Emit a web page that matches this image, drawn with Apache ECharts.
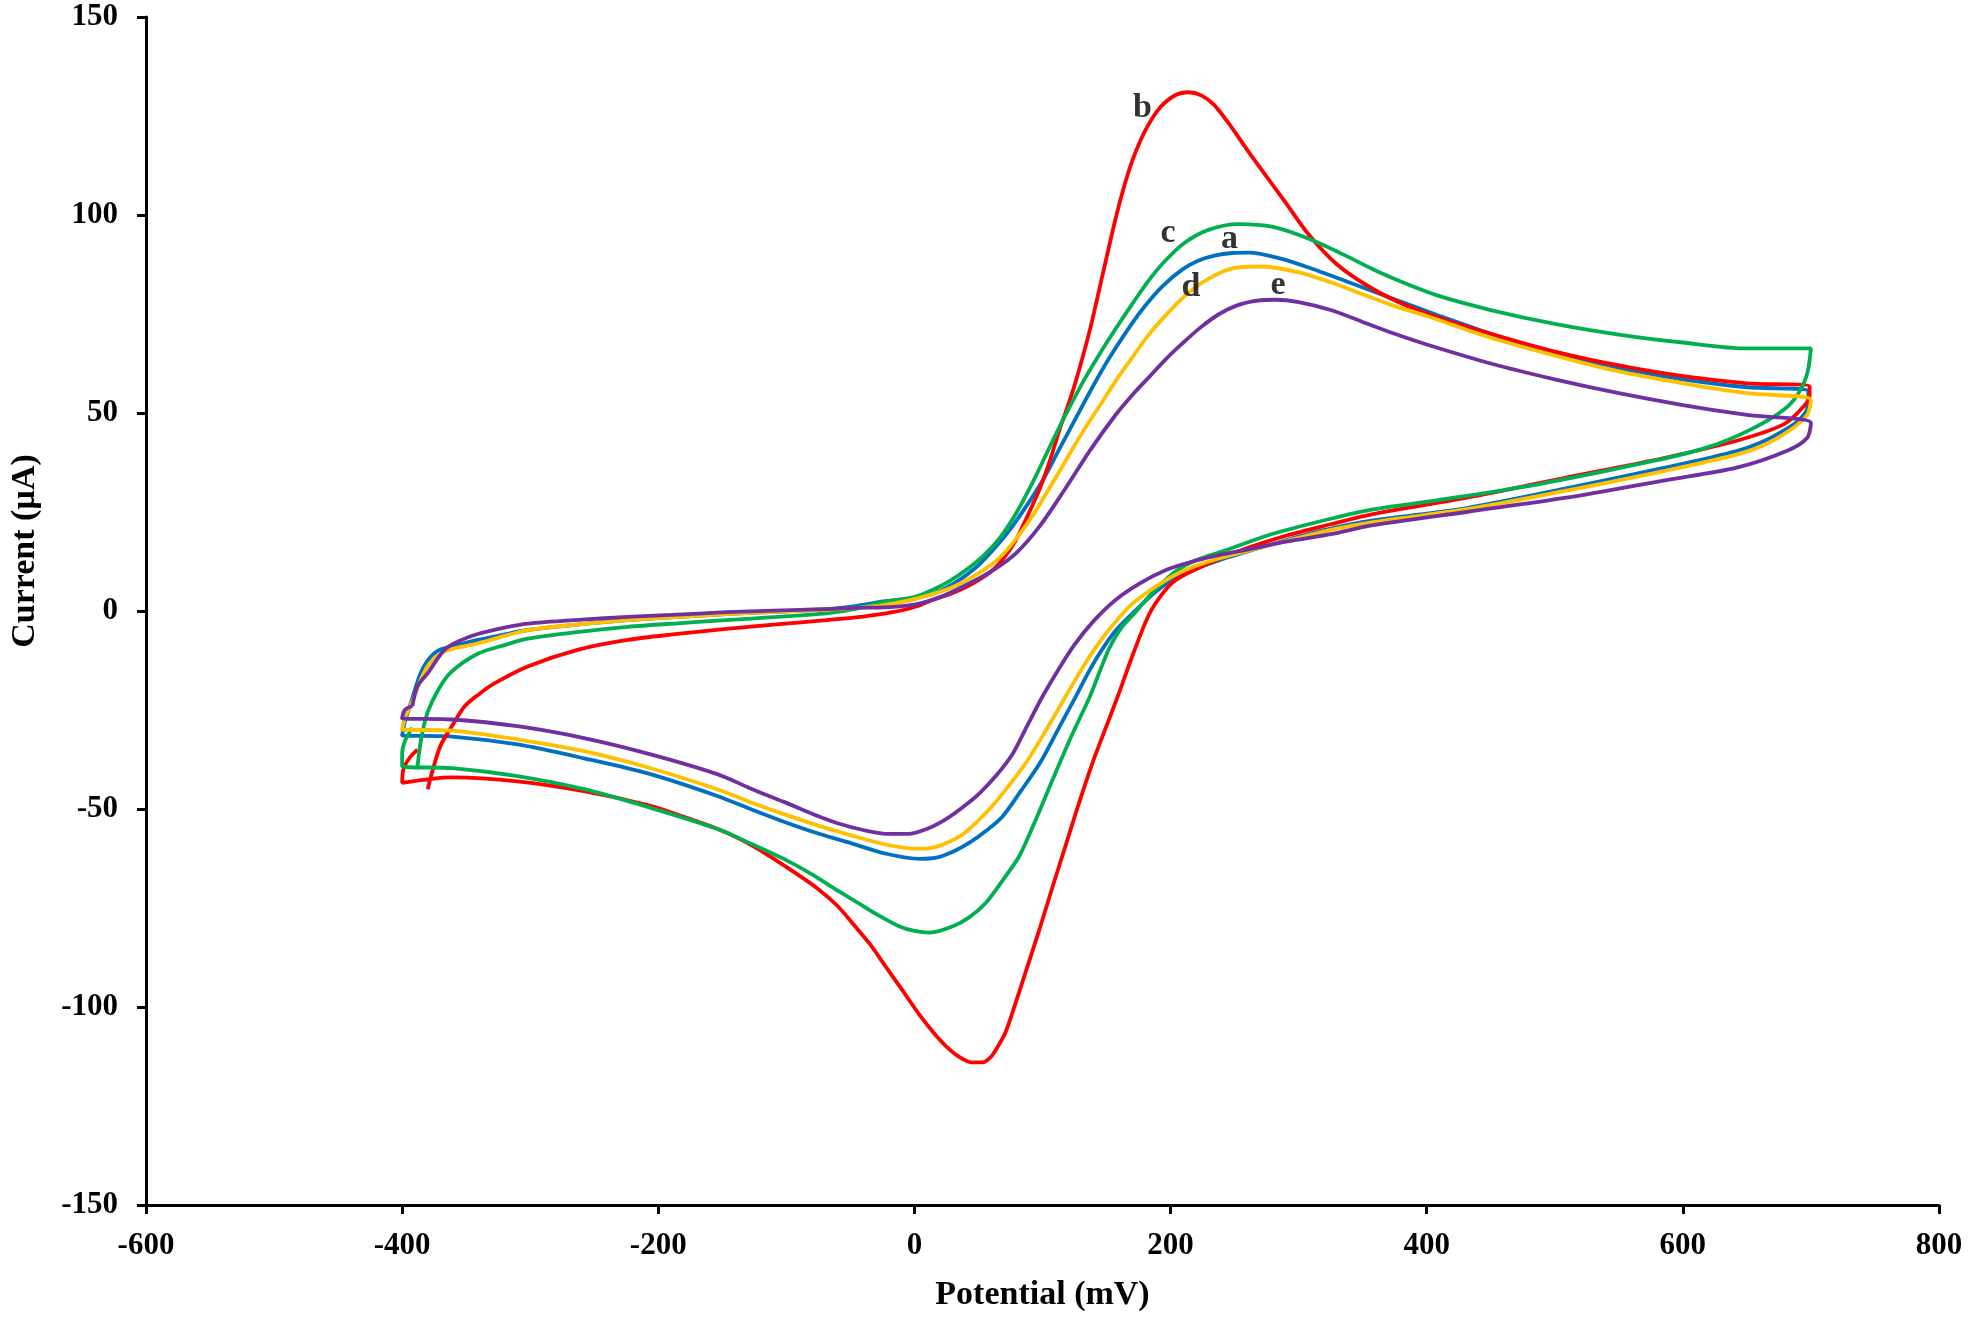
<!DOCTYPE html>
<html>

<head>
  <meta charset="utf-8">
  <title>Cyclic Voltammograms</title>
  <script src="https://cdn.jsdelivr.net/npm/echarts@6/dist/echarts.min.js"></script>
  <style>
    html, body { margin: 0; padding: 0; background: #fff; }
  </style>
</head>

<body>
  <div id="main" style="width: 1968px; height: 1317px;"></div>
  <script type="text/javascript">
    // axis ticks
    var xTicks = [-600, -400, -200, 0, 200, 400, 600, 800];
    var yTicks = [-150, -100, -50, 0, 50, 100, 150];

    // curve a (blue): forward scan then reverse scan, [potential mV, current uA]
    var curveA = [
      [-398, -28], [-392, -22], [-386, -16], [-380, -12.5], [-372, -10], [-357, -8.6], [-341, -7.3], [-320, -5.9],
      [-302, -4.8], [-260, -3.3], [-224, -2.3], [-185, -1.5], [-147, -0.8], [-108, -0.2], [-69, 0.4], [-45, 1.3],
      [-24, 2.4], [0, 3.3], [14, 4.3], [31, 7], [48, 11], [61, 15.3], [74, 20.3], [87, 26.3],
      [100, 32.9], [113, 40.8], [126, 48.7], [139, 56.5], [152, 63.8], [165, 70.3], [178, 76.2], [193, 81.8],
      [209, 86.2], [222, 88.5], [235, 89.8], [248, 90.4], [261, 90.5], [286, 89], [310, 86.5], [335, 83.5],
      [360, 80.5], [385, 77.5], [410, 74.5], [450, 70], [500, 65], [550, 61.3], [600, 58.5], [650, 56.5], [698, 55.5],
      [697, 51], [690, 48], [681, 46], [664, 43], [642, 40.4], [586, 36.2], [509, 31], [431, 26], [357, 22.8],
      [325, 20.8], [300, 18.8], [270, 16], [235, 12.5], [204, 8.3], [187, 4.5], [170, -0.7], [157, -5],
      [145, -10.5], [135, -16], [126, -21.6], [112, -30], [98, -38.4], [83, -45.5], [69, -51.8], [56, -55.5],
      [43, -58.5], [30, -60.8], [17, -62.3], [4, -62.6], [-22, -61.3], [-48, -58.8], [-75, -56.2], [-102, -53.2],
      [-128, -50], [-154, -46.7], [-206, -41.2], [-258, -37.2], [-310, -33.7], [-361, -31.7], [-400, -31.4], [-398, -28]
    ];

    // curve b (red)
    var curveB = [
      [-380, -45], [-376, -40], [-370, -34], [-361, -29], [-351, -24], [-340, -21], [-328, -18.3], [-302, -14],
      [-263, -9.8], [-224, -7.3], [-185, -5.8], [-147, -4.5], [-108, -3.4], [-69, -2.3], [-40, -1.4], [-17, -0.3],
      [0, 1], [14, 2.8], [27, 4.2], [40, 6], [51, 8], [61, 10.3], [70, 13.5], [79, 17.8],
      [88, 23.8], [98, 31], [106, 38.2], [113, 45.5], [120, 52], [126, 58], [137, 71], [147, 85],
      [157, 99], [164, 107.5], [171, 114.5], [181, 121.8], [192, 127.2], [204, 130.3], [214, 131], [224, 130.2],
      [234, 127.8], [245, 123.3], [263, 115], [289, 103.5], [308, 95], [330, 87.5], [357, 81.5], [385, 77],
      [410, 74], [450, 70], [500, 65.5], [550, 62], [600, 59.3], [650, 57.5], [699, 56.7],
      [699, 54.3], [691, 50.5], [678, 47], [642, 43], [586, 38.7], [509, 33.7], [431, 28.6], [357, 24.4],
      [325, 21.9], [290, 19], [261, 16], [228, 11.8], [204, 7.8], [194, 4.5], [183, -1], [170, -11.5],
      [160, -20.5], [150, -29], [139, -38.4], [128, -49], [118, -59.3], [108, -69.5], [98, -80], [87, -91],
      [77, -101], [71, -106.5], [66, -109.5], [60, -112.5], [53, -114], [45, -114], [35, -112.6], [25, -110],
      [15, -106.5], [4, -102], [-10, -95.5], [-22, -90], [-35, -84], [-48, -79], [-60, -74.5], [-76, -70],
      [-96, -65.5], [-115, -61.5], [-135, -57.8], [-154, -55], [-180, -52], [-206, -49.2], [-258, -45.5], [-310, -43],
      [-361, -42], [-400, -43.4], [-399, -40], [-394, -37], [-388, -35]
    ];

    // curve c (green)
    var curveC = [
      [-388, -39.2], [-385, -32], [-380, -25.5], [-372, -20], [-362, -15.5], [-341, -10.8], [-320, -8.6], [-302, -7],
      [-260, -5.2], [-224, -4], [-185, -3.1], [-147, -2.3], [-108, -1.5], [-69, -0.6], [-45, 0.6], [-24, 2.3],
      [0, 3.5], [14, 5.3], [27, 7.5], [40, 10.3], [54, 14], [67, 18.6], [80, 25], [93, 32.9],
      [105, 41], [118, 49.5], [131, 57.5], [144, 64.6], [157, 71.2], [170, 77.5], [183, 83.5], [196, 88.5],
      [211, 93], [230, 96.3], [253, 97.7], [280, 97], [308, 94], [335, 90], [360, 86], [385, 82.5],
      [410, 79.5], [450, 76], [500, 72.5], [550, 69.8], [600, 67.8], [650, 66.3], [700, 66.3],
      [696, 58.8], [683, 52], [654, 46], [616, 41], [564, 37], [487, 32], [409, 28], [357, 25.6],
      [325, 23.3], [280, 19.5], [240, 15], [220, 12.8], [204, 10], [187, 5], [172, -0.5], [161, -4.5],
      [152, -9.5], [145, -15], [137, -21.6], [122, -32], [108, -42.5], [95, -52.5], [82, -61.8], [70, -67.5],
      [56, -73.6], [43, -77.3], [30, -79.6], [12, -81.2], [0, -80.8], [-12, -79.6], [-30, -76.5], [-45, -73.5],
      [-63, -70], [-80, -66.5], [-102, -62.6], [-128, -58.7], [-154, -55], [-206, -49.7], [-258, -45], [-310, -41.7],
      [-361, -39.7], [-400, -39.2], [-400, -36], [-398, -33], [-392, -29.5]
    ];

    // curve d (yellow)
    var curveD = [
      [-398, -27], [-391, -22], [-385, -17], [-378, -13], [-365, -10], [-341, -8.2], [-320, -6.3], [-302, -4.8],
      [-260, -3.3], [-224, -2.3], [-185, -1.5], [-147, -0.8], [-108, -0.2], [-69, 0.3], [-45, 0.8], [-24, 1.5],
      [0, 3], [28, 5.8], [50, 9.5], [67, 13.6], [80, 18.5], [93, 24.4], [105, 30.8], [118, 37.9],
      [131, 45], [145, 52], [158, 58.5], [170, 64], [183, 69.8], [196, 74.6], [211, 79.5], [225, 83],
      [243, 86], [257, 86.9], [271, 87], [300, 85.5], [325, 83], [350, 80], [375, 77], [400, 74.5],
      [450, 69], [500, 64.5], [550, 60.5], [600, 57.5], [650, 55], [700, 53.3],
      [697, 49.5], [683, 45.5], [664, 42], [642, 39.5], [586, 35.4], [509, 30.4], [431, 25.7], [357, 22.4],
      [325, 20.5], [300, 18.5], [270, 16], [235, 13], [209, 10], [190, 6.5], [170, 1.8], [155, -3.5],
      [142, -9], [130, -15], [118, -21.6], [102, -30.5], [87, -38.4], [74, -44], [61, -49.2], [48, -53.5],
      [36, -56.8], [22, -59], [9, -60], [0, -60], [-22, -59], [-48, -56.8], [-75, -54.2], [-102, -51.3],
      [-128, -48.3], [-154, -45], [-206, -39.7], [-258, -35.4], [-310, -32.4], [-361, -30.2], [-400, -29.9], [-398, -27]
    ];

    // curve e (purple)
    var curveE = [
      [-392, -24], [-388, -19], [-380, -15.7], [-367, -9.8], [-355, -7.5], [-341, -5.8], [-320, -4.2], [-302, -3.2],
      [-260, -2.2], [-224, -1.5], [-190, -1], [-147, -0.3], [-110, 0.1], [-69, 0.5], [-45, 0.8], [-24, 0.9],
      [0, 1.6], [20, 3.5], [40, 6.5], [60, 10], [79, 14.5], [98, 21.5], [118, 31], [137, 40.5],
      [157, 49.5], [170, 54.5], [183, 59], [196, 63.5], [209, 67.5], [223, 71.5], [238, 75], [253, 77.3],
      [268, 78.4], [282, 78.6], [300, 78], [325, 76], [350, 73], [375, 70], [400, 67.3], [450, 62.5],
      [500, 58.5], [550, 55], [600, 52], [650, 49.5], [700, 47.5],
      [697, 43.7], [681, 40.4], [642, 36.2], [586, 33], [509, 28.6], [431, 25], [357, 21.6], [325, 19.4],
      [290, 17.5], [260, 15.5], [235, 13.9], [215, 12.3], [196, 10.3], [176, 7], [157, 2.8], [140, -2.5],
      [125, -8.5], [112, -15], [100, -21.6], [88, -29], [77, -35.9], [64, -41.5], [51, -46], [40, -49],
      [25, -52.5], [10, -55], [-5, -56.3], [-20, -56.3], [-40, -55.3], [-60, -53.6], [-80, -51.2], [-102, -48.2],
      [-128, -44.8], [-154, -41.2], [-206, -36.2], [-258, -32.1], [-310, -29.1], [-361, -27.4], [-400, -27.1], [-398, -25], [-392, -24]
    ];

    // curve letters and where they sit (data coords)
    var tagText = ['b', 'c', 'a', 'd', 'e'];
    var tagX = [178, 198, 246, 216, 284];
    var tagY = [127, 95.5, 94, 81.7, 82.2];

    var curveNames = ['a', 'b', 'c', 'd', 'e'];
    var curveData = [curveA, curveB, curveC, curveD, curveE];
    var curveColors = ['#0070C0', '#FF0000', '#00B050', '#FFC000', '#7030A0'];

    var font = 'Liberation Serif';
    var myChart = echarts.init(document.getElementById('main'));

    var series = curveData.map(function (d, i) {
      return {
        name: curveNames[i],
        type: 'line',
        data: d,
        smooth: 0.3,
        showSymbol: false,
        symbol: 'none',
        lineStyle: { color: curveColors[i], width: 3.8 },
        z: 2 + i
      };
    });

    series.push({
      type: 'scatter',
      symbolSize: 0,
      data: tagText.map(function (t, i) { return [tagX[i], tagY[i], t]; }),
      label: {
        show: true,
        position: 'inside',
        formatter: function (p) { return p.value[2]; },
        fontFamily: font,
        fontWeight: 'bold',
        fontSize: 34,
        color: '#000'
      },
      z: 10
    });

    myChart.setOption({
      animation: false,
      backgroundColor: '#fff',
      grid: { left: 138, right: 29, top: 17, bottom: 106, containLabel: false },
      xAxis: {
        type: 'value',
        min: xTicks[0],
        max: xTicks[xTicks.length - 1],
        interval: 200,
        name: 'Potential (mV)',
        nameLocation: 'middle',
        nameGap: 73,
        nameTextStyle: { fontFamily: font, fontWeight: 'bold', fontSize: 34, color: '#000' },
        axisLine: { onZero: false, lineStyle: { color: '#000', width: 3 } },
        axisTick: { show: true, inside: false, length: 9, lineStyle: { color: '#000', width: 3 } },
        axisLabel: { margin: 25, fontFamily: font, fontWeight: 'bold', fontSize: 31, color: '#000' },
        splitLine: { show: false }
      },
      yAxis: {
        type: 'value',
        min: yTicks[0],
        max: yTicks[yTicks.length - 1],
        interval: 50,
        name: 'Current (µA)',
        nameLocation: 'middle',
        nameGap: 104,
        nameTextStyle: { fontFamily: font, fontWeight: 'bold', fontSize: 34, color: '#000', padding: [0, 0, 0, 120] },
        axisLine: { onZero: false, lineStyle: { color: '#000', width: 3 } },
        axisTick: { show: true, inside: false, length: 9, lineStyle: { color: '#000', width: 3 } },
        axisLabel: { margin: 28, fontFamily: font, fontWeight: 'bold', fontSize: 31, color: '#000' },
        splitLine: { show: false }
      },
      series: series
    });
  </script>
</body>

</html>
